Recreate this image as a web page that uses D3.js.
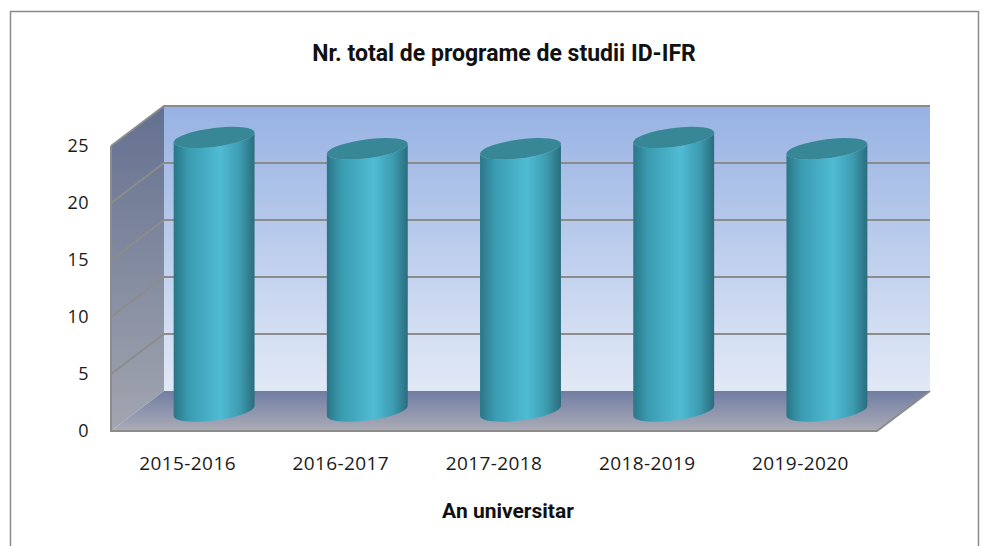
<!DOCTYPE html>
<html>
<head>
<meta charset="utf-8">
<script src="https://cdn.jsdelivr.net/npm/d3@7"></script>
<style>
  body{margin:0;background:#fff;}
  svg{display:block;}
  .lbl{font-family:"Open Sans",sans-serif;font-size:18px;fill:#1a1a1a;letter-spacing:0.4px;}
  .cat{font-size:19px;}
  .ttl{font-family:Roboto,sans-serif;font-weight:700;fill:#111;}
</style>
</head>
<body>
<div id="chart"></div>
<script>
const years = ["2015-2016","2016-2017","2017-2018","2018-2019","2019-2020"];
const values = [24,23,23,24,23];
const ticks = [0,5,10,15,20,25];
const title = "Nr. total de programe de studii ID-IFR";
const xTitle = "An universitar";

const W = 984, H = 546;
const DX = 53, DY = -40; // depth offset of the 3d box

const svg = d3.select("#chart").append("svg")
  .attr("width",W).attr("height",H);

const x = d3.scaleBand().domain(years).range([111,877]);
const y = d3.scaleLinear().domain([0,25]).range([431,146]);

const defs = svg.append("defs");
function vGrad(id,c1,c2){
  const g = defs.append("linearGradient").attr("id",id)
    .attr("x1","0%").attr("y1","0%").attr("x2","0%").attr("y2","100%");
  g.append("stop").attr("offset","0%").attr("stop-color",c1);
  g.append("stop").attr("offset","100%").attr("stop-color",c2);
}
vGrad("gBack","#97b2e3","#e2e9f6");
vGrad("gSide","#637090","#a3a6b0");
vGrad("gFloor","#717da3","#abacb6");

const cyl = defs.append("linearGradient").attr("id","gCyl")
  .attr("x1","0%").attr("y1","0%").attr("x2","100%").attr("y2","0%");
[["0%","#2a7687"],["18%","#3a9bb0"],["58%","#4fbcd4"],["82%","#3d9bb0"],["100%","#2a6d7d"]]
  .forEach(s=>cyl.append("stop").attr("offset",s[0]).attr("stop-color",s[1]));

// outer frame
svg.append("rect")
  .attr("x",10.5).attr("y",11.5).attr("width",968).attr("height",545)
  .attr("fill","none").attr("stroke","#8a8a8a").attr("stroke-width",1.5);

const x0 = x.range()[0], x1 = x.range()[1];
const yb = y(0), yt = y(25);
const line = d3.line();

// back wall
svg.append("rect")
  .attr("x",x0+DX).attr("y",yt+DY).attr("width",x1-x0).attr("height",yb-yt)
  .attr("fill","url(#gBack)");
// left wall
svg.append("path")
  .attr("d",line([[x0,yt],[x0+DX,yt+DY],[x0+DX,yb+DY],[x0,yb]])+"Z")
  .attr("fill","url(#gSide)");
// floor
svg.append("path")
  .attr("d",line([[x0,yb],[x0+DX,yb+DY],[x1+DX,yb+DY],[x1,yb]])+"Z")
  .attr("fill","url(#gFloor)");

// gridlines
const grid = svg.append("g").attr("stroke","#8c8c8c").attr("stroke-width",2).attr("fill","none");
ticks.filter(t=>t>0).forEach(t=>{
  grid.append("path").attr("d",line([[x0,y(t)],[x0+DX,y(t)+DY],[x1+DX,y(t)+DY]]));
});
grid.append("path").attr("d",line([[x0,yt],[x0,yb],[x1,yb],[x1+DX,yb+DY]]));

// y tick labels
svg.append("g").selectAll("text").data(ticks).enter().append("text")
  .attr("class","lbl")
  .attr("x",89).attr("y",d=>y(d)).attr("dy","0.36em")
  .attr("text-anchor","end")
  .text(d=>d);

// cylinders
const rx = x.bandwidth()*0.264, ry = 9.5, skew = -7;
const bars = svg.append("g").selectAll("g").data(years).enter().append("g")
  .attr("transform",d=>"translate("+(x(d)+x.bandwidth()/2+DX/2)+",0) skewY("+skew+")");

bars.append("path")
  .attr("fill","url(#gCyl)")
  .attr("d",(d,i)=>{
    const t = y(values[i])+DY/2, b = yb+DY/2;
    return "M"+(-rx)+","+t+"L"+(-rx)+","+b+
      "A"+rx+","+ry+" 0 0 0 "+rx+","+b+
      "L"+rx+","+t+"A"+rx+","+ry+" 0 0 1 "+(-rx)+","+t+"Z";
  });
bars.append("ellipse")
  .attr("cx",0).attr("cy",(d,i)=>y(values[i])+DY/2)
  .attr("rx",rx).attr("ry",ry)
  .attr("fill","#378797");

// category labels
svg.append("g").selectAll("text").data(years).enter().append("text")
  .attr("class","lbl cat")
  .attr("x",d=>x(d)+x.bandwidth()/2).attr("y",463).attr("dy","0.36em")
  .attr("text-anchor","middle")
  .text(d=>d);

svg.append("text").attr("class","ttl")
  .attr("x",504).attr("y",53).attr("dy","0.36em")
  .attr("text-anchor","middle").style("font-size","23px")
  .text(title);

svg.append("text").attr("class","ttl")
  .attr("x",508).attr("y",510).attr("dy","0.36em")
  .attr("text-anchor","middle").style("font-size","21px")
  .text(xTitle);
</script>
</body>
</html>
